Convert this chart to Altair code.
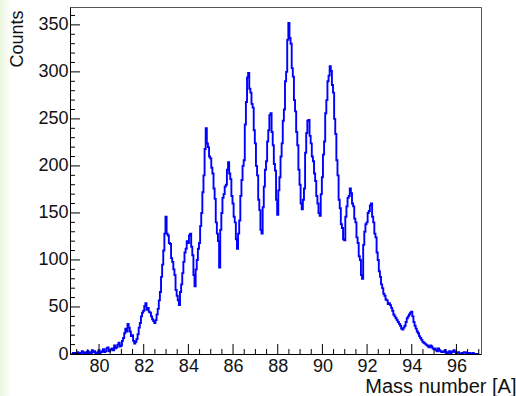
import altair as alt
import numpy as np
import pandas as pd

# Histogram of mass numbers: bin centres start at 78.80, width 0.05
first_center = 78.8
bin_width = 0.05
counts = [
    0, 1, 1, 0, 0, 2, 1, 0, 1, 3, 2, 0, 1, 2, 3, 0, 2, 1, 4, 2, 3, 1, 1, 2,   # 78.80 - 79.95
    4, 1, 2, 3, 5, 2, 3, 6, 7, 3, 4, 5, 6, 4, 9, 6, 7, 10, 12, 8,             # 80.00 - 80.95
    9, 14, 17, 22, 27, 24, 32, 28, 24, 19, 20, 14, 11, 13, 16, 21, 28, 33, 40, 44,          # 81
    46, 51, 54, 47, 49, 45, 44, 40, 37, 35, 33, 36, 42, 48, 57, 66, 82, 95, 110, 128,       # 82
    146, 128, 126, 118, 117, 102, 98, 90, 84, 68, 62, 57, 52, 66, 74, 86, 98, 108, 112, 120,   # 83
    118, 126, 128, 114, 105, 84, 72, 90, 100, 112, 118, 136, 150, 172, 190, 218, 240, 224, 220, 210,  # 84
    208, 198, 192, 176, 165, 140, 128, 120, 92, 132, 150, 166, 170, 178, 180, 196, 204, 192, 186, 168,  # 85
    160, 146, 140, 122, 112, 128, 142, 168, 185, 200, 206, 244, 268, 294, 299, 282, 278, 266, 262, 238,  # 86
    224, 200, 190, 164, 153, 132, 128, 156, 178, 196, 205, 226, 238, 254, 256, 236, 222, 202, 195, 164,  # 87
    148, 174, 188, 210, 224, 248, 260, 290, 300, 334, 352, 336, 330, 304, 295, 270, 258, 236, 222, 196,  # 88
    180, 160, 154, 164, 176, 214, 235, 248, 249, 232, 224, 210, 205, 192, 184, 168, 160, 150, 147, 170,  # 89
    188, 212, 226, 256, 270, 290, 296, 306, 301, 286, 278, 250, 234, 206, 190, 164, 155, 138, 134, 122,  # 90
    121, 146, 157, 166, 168, 176, 171, 160, 157, 144, 140, 124, 118, 104, 100, 84, 80, 116, 130, 138,    # 91
    140, 150, 152, 158, 160, 146, 140, 128, 124, 108, 100, 88, 82, 74, 70, 64, 62, 58, 57, 53,           # 92
    54, 52, 49, 46, 42, 40, 38, 36, 34, 32, 30, 27, 26, 28, 30, 34, 38, 40, 42, 44,   # 93
    45, 40, 34, 30, 27, 24, 22, 19, 17, 15, 13, 12, 11, 10, 9, 8, 7, 9, 8, 6,         # 94
    5, 6, 4, 3, 6, 4, 3, 2, 2, 3, 4, 2, 1, 2, 3, 1, 2, 3, 4, 2,                       # 95
    1, 2, 2, 0, 0, 1, 1, 2, 2, 1, 0, 1, 1, 0, 0, 1, 0, 0, 0, 0,                       # 96
    0,                                                                                # 97.00
]

centers = np.round(first_center + bin_width * np.arange(len(counts)), 3)
hist = pd.DataFrame({"mass": centers, "counts": counts})

x_range = [78.7, 97.1]
y_range = [0, 369]

# inward-pointing tick positions (ROOT style)
x_major = list(range(80, 97, 2))
x_minor = [v / 2 for v in range(158, 195) if v % 4]
y_major = list(range(0, 351, 50))
y_minor = [v for v in range(10, 370, 10) if v % 50]

W, H = 411, 347
FONT = "Liberation Sans"
BLUE = "#0000ff"
INK = "#111111"

xs = alt.Scale(domain=x_range, nice=False, zero=False)
ys = alt.Scale(domain=y_range, nice=False, zero=False)

x_axis = alt.Axis(
    values=x_major, format="d", title="Mass number [A]",
    ticks=False, tickSize=0, grid=False, zindex=1,
    domainColor="#000000", domainWidth=1,
    labelFont=FONT, labelFontSize=18, labelColor=INK,
    labelPadding=3, labelFlush=False,
    titleFont=FONT, titleFontSize=20, titleFontWeight="normal",
    titleColor=INK, titleX=446, titleY=38,
    titleAlign="right", titleBaseline="alphabetic",
)
y_axis = alt.Axis(
    values=y_major, title="Counts",
    ticks=False, tickSize=0, grid=False, zindex=1,
    domainColor="#000000", domainWidth=1,
    labelFont=FONT, labelFontSize=18, labelColor=INK,
    labelPadding=2, labelFlush=False,
    titleFont=FONT, titleFontSize=18, titleFontWeight="normal",
    titleColor=INK, titleX=-53, titleY=3, titleAngle=270,
    titleAlign="right", titleBaseline="middle",
)

line = alt.Chart(hist).mark_line(
    interpolate="step", color=BLUE, strokeWidth=1.9
).encode(
    x=alt.X("mass:Q", scale=xs, axis=x_axis, title="Mass number [A]"),
    y=alt.Y("counts:Q", scale=ys, axis=y_axis, title="Counts"),
)


def y_ticks(values, length):
    return alt.Chart(pd.DataFrame({"v": values})).mark_rule(
        color="#000000", strokeWidth=1
    ).encode(
        y=alt.Y("v:Q", scale=ys, axis=y_axis, title="Counts"),
        x=alt.value(0),
        x2=alt.value(length),
    )


def x_ticks(values, length):
    return alt.Chart(pd.DataFrame({"v": values})).mark_rule(
        color="#000000", strokeWidth=1
    ).encode(
        x=alt.X("v:Q", scale=xs, axis=x_axis, title="Mass number [A]"),
        y=alt.value(H),
        y2=alt.value(H - length),
    )


# pale green page edge to the left of the figure
edge = alt.Chart(pd.DataFrame({"v": [0]})).mark_rect(
    color=alt.Gradient(
        gradient="linear",
        stops=[
            alt.GradientStop(color="#e9f6dd", offset=0),
            alt.GradientStop(color="#ffffff", offset=1),
        ],
        x1=0, x2=1, y1=0, y2=0,
    ),
    clip=False,
).encode(
    x=alt.value(-70), x2=alt.value(-59),
    y=alt.value(-7), y2=alt.value(H + 42),
)

chart = alt.layer(
    edge,
    line,
    y_ticks(y_major, 10),
    y_ticks(y_minor, 5),
    x_ticks(x_major, 10),
    x_ticks(x_minor, 5),
).properties(
    width=W,
    height=H,
    autosize=alt.AutoSizeParams(type="none"),
    padding={"left": 70, "top": 7, "right": 35, "bottom": 42},
    background="#ffffff",
).configure_view(
    stroke="#555555", strokeWidth=1
)

chart.save("out.html", embed_options={"renderer": "svg", "actions": False})
